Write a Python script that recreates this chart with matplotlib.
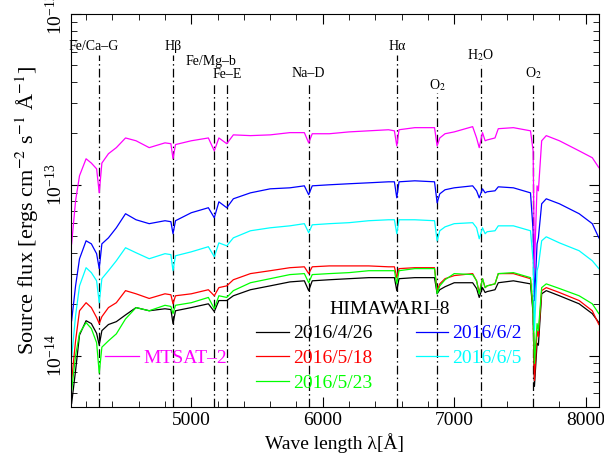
import numpy as np
import matplotlib
matplotlib.use('Agg')
import matplotlib.pyplot as plt
from matplotlib.ticker import MultipleLocator, LogLocator, LogFormatterMathtext, NullFormatter

plt.rcParams['font.family'] = ['Liberation Serif', 'DejaVu Serif']
plt.rcParams['mathtext.fontset'] = 'stix'

# wavelength grid [A]
wave = [4090, 4120, 4150, 4200, 4240, 4280, 4300, 4320, 4370, 4430,
        4500, 4580, 4680, 4800, 4845, 4861, 4880, 5000, 5130, 5175,
        5210, 5270, 5320, 5450, 5600, 5750, 5860, 5893, 5920, 6050,
        6200, 6350, 6500, 6545, 6563, 6580, 6700, 6850, 6870, 6890,
        6930, 7000, 7140, 7170, 7190, 7215, 7235, 7250, 7310, 7335,
        7450, 7580, 7600, 7610, 7630, 7640, 7665, 7700, 7800, 7950,
        8050, 8100]

# source flux in units of 1e-14 ergs/cm2/s/A
mtsat2 = [4.51, 8.06, 11.3, 14.2, 13.4, 12.4, 8.97, 13.4, 15.2, 16.5,
          18.8, 18.1, 16.5, 17.6, 17.4, 14.2, 17.2, 18.1, 18.8, 15.8,
          18.8, 17.4, 19.6, 19.4, 19.6, 20.2, 20.2, 17.6, 19.9, 19.9,
          20.4, 20.7, 21.0, 20.7, 16.9, 21.0, 21.6, 21.6, 16.9, 18.8,
          19.9, 20.4, 21.9, 18.8, 16.5, 20.2, 18.1, 18.3, 18.8, 21.3,
          21.6, 20.7, 15.8, 3.27, 9.86, 9.22, 18.1, 19.4, 18.1, 15.8,
          14.4, 12.6]

h8_0426 = [0.525, 0.817, 1.32, 1.60, 1.54, 1.35, 1.15, 1.40, 1.52, 1.58,
           1.73, 1.91, 1.83, 1.88, 1.86, 1.54, 1.83, 1.91, 2.01, 1.81,
           2.10, 2.10, 2.24, 2.43, 2.56, 2.70, 2.74, 2.40, 2.74, 2.78,
           2.82, 2.86, 2.86, 2.86, 2.40, 2.82, 2.86, 2.86, 2.30, 2.43,
           2.53, 2.67, 2.67, 2.47, 2.19, 2.50, 2.34, 2.37, 2.43, 2.67,
           2.74, 2.63, 1.76, 0.66, 1.18, 1.15, 2.30, 2.40, 2.24, 2.01,
           1.76, 1.56]

h8_0518 = [0.714, 1.22, 1.83, 2.04, 1.91, 1.67, 1.54, 1.69, 1.91, 2.04,
           2.40, 2.30, 2.16, 2.30, 2.27, 2.01, 2.24, 2.30, 2.43, 2.24,
           2.50, 2.56, 2.78, 3.02, 3.14, 3.27, 3.31, 3.02, 3.31, 3.35,
           3.35, 3.35, 3.31, 3.31, 2.86, 3.23, 3.27, 3.27, 2.40, 2.63,
           2.82, 2.94, 3.02, 2.74, 2.34, 2.82, 2.50, 2.56, 2.63, 3.02,
           3.02, 2.82, 1.83, 0.714, 1.40, 1.29, 2.40, 2.50, 2.34, 2.10,
           1.83, 1.52]

h8_0523 = [0.624, 1.00, 1.35, 1.56, 1.44, 1.19, 0.79, 1.12, 1.22, 1.34,
           1.64, 1.91, 1.83, 1.97, 1.94, 1.76, 1.97, 2.04, 2.19, 1.88,
           2.24, 2.19, 2.40, 2.67, 2.82, 2.98, 3.02, 2.67, 2.98, 3.02,
           3.06, 3.14, 3.14, 3.14, 2.63, 3.14, 3.23, 3.23, 2.30, 2.56,
           2.78, 3.02, 2.98, 2.74, 2.30, 2.82, 2.50, 2.56, 2.63, 3.02,
           3.06, 2.86, 1.83, 0.90, 1.54, 1.40, 2.50, 2.63, 2.47, 2.24,
           2.01, 1.76]

h8_0602 = [1.60, 2.56, 3.69, 4.70, 4.51, 3.95, 3.23, 4.51, 4.89, 5.60,
           6.77, 6.24, 5.92, 6.16, 6.08, 5.17, 6.16, 6.86, 7.34, 6.41,
           7.95, 7.34, 8.28, 8.97, 9.47, 9.60, 9.86, 8.74, 9.86, 10.0,
           10.14, 10.27, 10.41, 10.41, 8.39, 10.41, 10.55, 10.41, 7.84, 8.85,
           9.35, 9.60, 9.86, 9.22, 8.39, 9.47, 8.97, 9.10, 9.22, 9.73,
           9.60, 8.97, 5.38, 2.10, 4.51, 4.89, 7.74, 8.28, 7.74, 6.77,
           5.92, 4.89]

h8_0605 = [0.974, 1.71, 2.56, 3.27, 3.06, 2.74, 2.04, 2.82, 3.14, 3.59,
           4.28, 4.00, 3.69, 3.95, 3.90, 3.14, 3.84, 4.05, 4.34, 3.79,
           4.57, 4.39, 4.89, 5.38, 5.60, 5.75, 5.92, 5.24, 5.83, 5.92,
           6.00, 6.16, 6.24, 6.24, 5.17, 6.24, 6.24, 6.16, 4.70, 5.38,
           5.67, 5.92, 6.00, 5.60, 4.83, 5.60, 5.17, 5.31, 5.38, 5.75,
           5.75, 5.38, 3.59, 1.40, 3.14, 3.35, 4.70, 4.96, 4.57, 4.11,
           3.59, 3.23]

h8_labels = ['2016/4/26', '2016/5/18', '2016/5/23', '2016/6/2', '2016/6/5']
h8_series = [h8_0426, h8_0518, h8_0523, h8_0602, h8_0605]
h8_colors = ['black', '#ff0000', '#00ff00', '#0000ff', '#00ffff']

# spectral features: name, wavelength
feat_names = ['Fe/Ca–G', 'Hβ', 'Fe/Mg–b', 'Fe–E', 'Na–D', 'Hα', 'O$_2$', 'H$_2$O', 'O$_2$']
feat_wave = [4300, 4861, 5175, 5270, 5893, 6563, 6870, 7200, 7600]
# top of dash-dot line, label centre (axes fraction), label x offset [A]
feat_top = [0.896, 0.896, 0.824, 0.824, 0.824, 0.896, 0.799, 0.870, 0.819]
feat_lab = [0.918, 0.918, 0.878, 0.846, 0.848, 0.918, 0.819, 0.895, 0.850]
feat_dx = [-40, 0, -25, 0, 0, 0, 0, 0, 0]

fig = plt.figure(figsize=(6.04, 4.57), dpi=100)
ax = fig.add_axes([0.1175, 0.1094, 0.874, 0.86])

w = np.array(wave)
h8_lines = []
for flux, lab, col in zip(h8_series, h8_labels, h8_colors):
    ln, = ax.plot(w, np.array(flux) * 1e-14, color=col, lw=0.9, label=lab)
    h8_lines.append(ln)
mt_line, = ax.plot(w, np.array(mtsat2) * 1e-14, color='#ff00ff', lw=0.9, label='MTSAT–2')

trans = ax.get_xaxis_transform()
for name, x0, top, ly, dx in zip(feat_names, feat_wave, feat_top, feat_lab, feat_dx):
    ax.plot([x0, x0], [0, top], transform=trans, color='black', lw=0.9,
            linestyle=(0, (7, 2.5, 1.2, 2.5)), zorder=0)
    ax.text(x0 + dx, ly, name, transform=trans, ha='center', va='center', fontsize=10)

ax.set_xlim(4085, 8100)
ax.set_yscale('log')
ax.set_ylim(5e-15, 1e-12)

ax.xaxis.set_major_locator(MultipleLocator(1000))
ax.xaxis.set_minor_locator(MultipleLocator(200))
ax.yaxis.set_major_locator(LogLocator(base=10))
ax.yaxis.set_minor_locator(LogLocator(base=10, subs=np.arange(2, 10)))
ax.yaxis.set_major_formatter(LogFormatterMathtext())
ax.yaxis.set_minor_formatter(NullFormatter())
ax.tick_params(which='both', direction='in', top=True, right=True, labelsize=14)
ax.tick_params(which='major', length=7)
ax.tick_params(which='minor', length=4)
ax.tick_params(axis='y', labelrotation=90)

ax.set_xlabel('Wave length λ[Å]', fontsize=14, labelpad=3)
ax.set_ylabel('Source flux [ergs cm$^{-2}$ s$^{-1}$ Å$^{-1}$]', fontsize=16, labelpad=3)

leg = ax.legend(handles=h8_lines, ncol=2, loc='upper center', bbox_to_anchor=(0.603, 0.27),
                frameon=False, fontsize=14, title='HIMAWARI–8', title_fontsize=14,
                handlelength=1.65, handletextpad=0.25, columnspacing=2.2, labelspacing=0.36,
                borderpad=0, borderaxespad=0, labelcolor='linecolor')
ax.add_artist(leg)
ax.legend(handles=[mt_line], loc='center left', bbox_to_anchor=(0.064, 0.125), frameon=False,
          fontsize=14, handlelength=1.75, handletextpad=0.25, borderpad=0, borderaxespad=0,
          labelcolor='linecolor')

# centre the rotated decade labels on their ticks
for lbl in ax.get_yticklabels():
    lbl.set_verticalalignment('center')

fig.savefig('out.png', dpi=100)
